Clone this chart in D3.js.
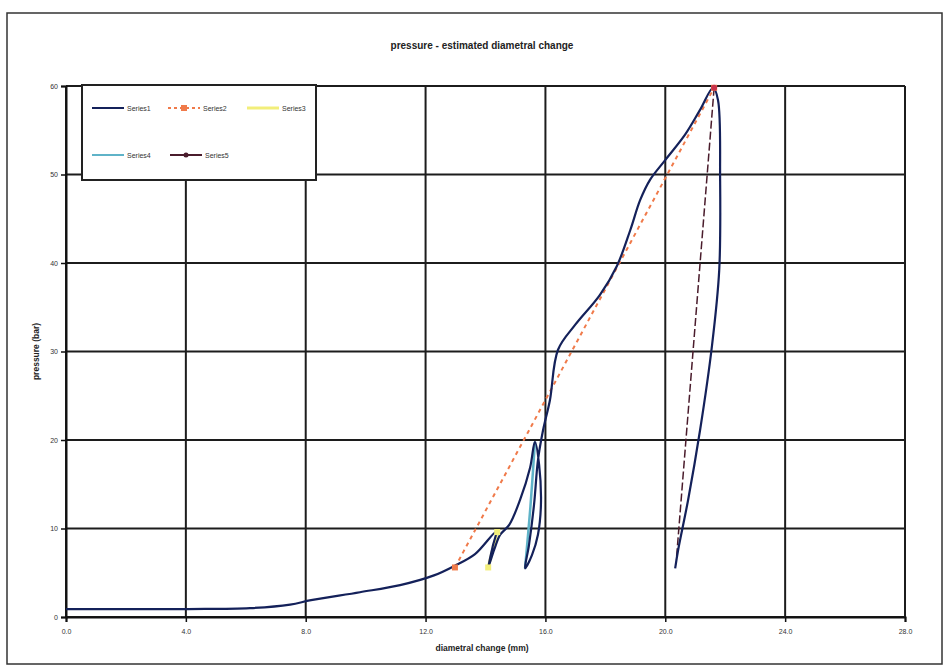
<!DOCTYPE html>
<html>
<head>
<meta charset="utf-8">
<script src="https://cdn.jsdelivr.net/npm/d3@7"></script>
<style>
  body { margin: 0; background: #fff; }
  svg { display: block; font-family: "Liberation Sans", Arial, sans-serif; }
</style>
</head>
<body>
<svg id="chart" width="948" height="669"></svg>
<script>
// Data (x = diametral change mm, y = pressure bar)
const series1 = [
  [0, 0.9], [4.07, 0.9], [6.14, 1.0], [7.48, 1.4], [8.18, 1.9], [9.81, 2.8],
  [11.15, 3.6], [12.28, 4.7], [12.98, 5.8], [13.65, 7.1], [14.35, 9.6],
  [14.25, 8.1], [14.09, 5.6],
  [14.29, 7.6], [14.49, 9.3], [14.79, 10.4], [15.15, 13.2], [15.49, 16.9], [15.65, 19.8],
  [15.79, 17.2], [15.85, 12.7], [15.75, 9.3], [15.55, 7.0], [15.32, 5.5],
  [15.45, 8.1], [15.62, 12.7], [15.75, 17.7], [15.92, 21.1], [16.15, 24.5],
  [16.42, 30.2], [16.99, 33.0], [17.82, 36.4], [18.39, 39.7], [18.83, 43.7],
  [19.16, 47.1], [19.49, 49.4], [19.99, 51.6], [20.66, 54.5], [21.16, 57.3], [21.6, 59.8],
  [21.76, 58.4], [21.83, 49.4], [21.8, 39.2], [21.56, 30.7], [21.16, 21.1],
  [20.76, 13.2], [20.43, 7.6], [20.33, 5.5]
];
const series2 = [[12.98, 5.6], [21.63, 59.8]];
const series3 = [[14.09, 5.6], [14.39, 9.6]];
const series4 = [[15.32, 5.5], [15.5, 12.5], [15.65, 19.8]];
const series5 = [[21.63, 59.8], [20.37, 6.5]];

const seriesNames = ["Series1", "Series2", "Series3", "Series4", "Series5"];
const xTicks = [0, 4, 8, 12, 16, 20, 24, 28];
const yTicks = [0, 10, 20, 30, 40, 50, 60];

const svg = d3.select("#chart");

// Outer chart frame
svg.append("rect")
  .attr("x", 7).attr("y", 13).attr("width", 935).attr("height", 651)
  .attr("fill", "none").attr("stroke", "#333").attr("stroke-width", 1.5);

const x = d3.scaleLinear().domain([0, 28]).range([66, 905]);
const y = d3.scaleLinear().domain([0, 60]).range([617, 86]);

// Gridlines
svg.append("g").selectAll("line").data(xTicks).join("line")
  .attr("x1", d => x(d)).attr("x2", d => x(d))
  .attr("y1", y(60)).attr("y2", y(0))
  .attr("stroke", "#1c1c1c").attr("stroke-width", 2);
svg.append("g").selectAll("line").data(yTicks).join("line")
  .attr("x1", x(0)).attr("x2", x(28))
  .attr("y1", d => y(d)).attr("y2", d => y(d))
  .attr("stroke", "#1c1c1c").attr("stroke-width", 2);

// Axes
const xAxis = svg.append("g")
  .attr("transform", `translate(0,${y(0)})`)
  .call(d3.axisBottom(x).tickValues(xTicks).tickSize(5).tickFormat(d3.format(".1f")));
const yAxis = svg.append("g")
  .attr("transform", `translate(${x(0)},0)`)
  .call(d3.axisLeft(y).tickValues(yTicks).tickSize(5));
[xAxis, yAxis].forEach(a => {
  a.select(".domain").attr("stroke", "#111").attr("stroke-width", 2);
  a.selectAll(".tick line").attr("stroke", "#111").attr("stroke-width", 1.5);
  a.selectAll(".tick text").attr("fill", "#333").style("font-size", "7px");
});
xAxis.selectAll(".tick text").attr("dy", "1.3em");

const line = d3.line().x(d => x(d[0])).y(d => y(d[1]));
const smooth = d3.line().x(d => x(d[0])).y(d => y(d[1])).curve(d3.curveCatmullRom.alpha(0.5));

// Series
svg.append("path").datum(series2).attr("d", line)
  .attr("fill", "none").attr("stroke", "#f07a4a").attr("stroke-width", 2)
  .attr("stroke-dasharray", "4,4");
svg.append("path").datum(series3).attr("d", line)
  .attr("fill", "none").attr("stroke", "#f2ee7a").attr("stroke-width", 3);
svg.append("path").datum(series5).attr("d", line)
  .attr("fill", "none").attr("stroke", "#4a1c2c").attr("stroke-width", 1.5)
  .attr("stroke-dasharray", "8,3");
svg.append("path").datum(series4).attr("d", smooth)
  .attr("fill", "none").attr("stroke", "#5fb3c8").attr("stroke-width", 2.5);
svg.append("path").datum(series1).attr("d", smooth)
  .attr("fill", "none").attr("stroke", "#14215a").attr("stroke-width", 2.2);

// Markers
svg.append("g").selectAll("rect").data(series2).join("rect")
  .attr("x", d => x(d[0]) - 3).attr("y", d => y(d[1]) - 3)
  .attr("width", 6).attr("height", 6).attr("fill", "#f07a4a");
svg.append("g").selectAll("rect").data(series3).join("rect")
  .attr("x", d => x(d[0]) - 3).attr("y", d => y(d[1]) - 3)
  .attr("width", 6).attr("height", 6).attr("fill", "#f2ee7a");
svg.append("g").selectAll("circle").data(series5.slice(0, 1)).join("circle")
  .attr("cx", d => x(d[0])).attr("cy", d => y(d[1])).attr("r", 3).attr("fill", "#c8334a");

// Title and axis titles
svg.append("text")
  .attr("x", 482).attr("y", 49).attr("text-anchor", "middle")
  .style("font-size", "10px").style("font-weight", "bold").attr("fill", "#222")
  .text("pressure - estimated diametral change");
svg.append("text")
  .attr("x", 482).attr("y", 651).attr("text-anchor", "middle")
  .style("font-size", "8.5px").style("font-weight", "bold").attr("fill", "#222")
  .text("diametral change (mm)");
svg.append("text")
  .attr("transform", `translate(39,${y(30)}) rotate(-90)`)
  .attr("text-anchor", "middle")
  .style("font-size", "8.5px").style("font-weight", "bold").attr("fill", "#222")
  .text("pressure (bar)");

// Legend
const legend = svg.append("g");
legend.append("rect")
  .attr("x", 82).attr("y", 85).attr("width", 234).attr("height", 95)
  .attr("fill", "#fff").attr("stroke", "#222").attr("stroke-width", 2);
const legendItems = [
  {name: seriesNames[0], lx: 92, ly: 108, color: "#14215a", dash: null, mark: null},
  {name: seriesNames[1], lx: 168, ly: 108, color: "#f07a4a", dash: "3,3", mark: "rect"},
  {name: seriesNames[2], lx: 247, ly: 108, color: "#f2ee7a", dash: null, mark: null},
  {name: seriesNames[3], lx: 92, ly: 155, color: "#5fb3c8", dash: null, mark: null},
  {name: seriesNames[4], lx: 170, ly: 155, color: "#4a1c2c", dash: null, mark: "circle"}
];
legendItems.forEach(it => {
  legend.append("line")
    .attr("x1", it.lx).attr("x2", it.lx + 32).attr("y1", it.ly).attr("y2", it.ly)
    .attr("stroke", it.color).attr("stroke-width", it.name === "Series3" ? 3 : 2)
    .attr("stroke-dasharray", it.dash);
  if (it.mark === "rect") {
    legend.append("rect").attr("x", it.lx + 13).attr("y", it.ly - 3)
      .attr("width", 6).attr("height", 6).attr("fill", it.color);
  } else if (it.mark === "circle") {
    legend.append("circle").attr("cx", it.lx + 16).attr("cy", it.ly).attr("r", 2.5).attr("fill", it.color);
  }
  legend.append("text")
    .attr("x", it.lx + 35).attr("y", it.ly + 2.5)
    .style("font-size", "7px").attr("fill", "#333")
    .text(it.name);
});
</script>
</body>
</html>
